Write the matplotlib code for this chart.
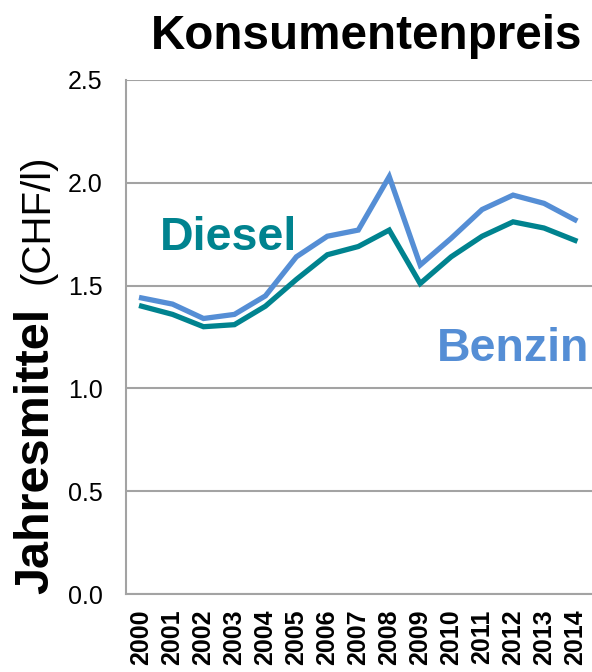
import numpy as np
import matplotlib
matplotlib.use('Agg')
import matplotlib.pyplot as plt

plt.rcParams['font.family'] = ['Liberation Sans', 'DejaVu Sans']

# Data
years = ['2000', '2001', '2002', '2003', '2004', '2005', '2006', '2007',
         '2008', '2009', '2010', '2011', '2012', '2013', '2014']
benzin = [1.44, 1.41, 1.34, 1.36, 1.45, 1.64, 1.74, 1.77,
          2.03, 1.60, 1.73, 1.87, 1.94, 1.90, 1.82]
diesel = [1.40, 1.36, 1.30, 1.31, 1.40, 1.53, 1.65, 1.69,
          1.77, 1.51, 1.64, 1.74, 1.81, 1.78, 1.72]
yticks = [0.0, 0.5, 1.0, 1.5, 2.0, 2.5]

c_benzin = '#558ED5'
c_diesel = '#00838F'
c_grid = '#A3A3A3'

fig = plt.figure(figsize=(5.92, 6.72), dpi=100)
ax = fig.add_axes([0.213, 0.116, 0.787, 0.765])

x = np.arange(len(years))
ax.plot(x, benzin, color=c_benzin, lw=3.8, solid_joinstyle='miter', zorder=3)
ax.plot(x, diesel, color=c_diesel, lw=3.8, solid_joinstyle='miter', zorder=3)

ax.set_xlim(-0.5, len(years) - 0.45)
ax.set_ylim(0, 2.5)
ax.set_yticks(yticks)
ax.set_yticklabels(['%.1f' % v for v in yticks], fontsize=18)
ax.set_xticks(x)
ax.set_xticklabels(years, rotation=90, fontsize=18, fontweight='bold')
ax.tick_params(axis='y', length=0, pad=17)
ax.tick_params(axis='x', length=0, pad=11)

ax.grid(axis='y', color=c_grid, lw=1.5)
ax.set_axisbelow(True)
for s in ['top', 'right']:
    ax.spines[s].set_visible(False)
ax.spines['left'].set_color(c_grid)
ax.spines['left'].set_linewidth(1.5)
ax.spines['bottom'].set_color(c_grid)
ax.spines['bottom'].set_linewidth(1.5)

# series labels
ax.text(0.6, 1.73, 'Diesel', color=c_diesel, fontsize=33.5, fontweight='bold',
        ha='left', va='center')
ax.text(9.55, 1.19, 'Benzin', color=c_benzin, fontsize=33.5, fontweight='bold',
        ha='left', va='center')

# title and y-axis label
fig.text(0.619, 0.927, 'Konsumentenpreis', fontsize=34.3, fontweight='bold',
         ha='center', va='baseline')
fig.text(0.061, 0.116, 'Jahresmittel', fontsize=35, fontweight='bold',
         rotation=90, ha='center', va='bottom')
fig.text(0.063, 0.578, '(CHF/l)', fontsize=29, rotation=90,
         ha='center', va='bottom')

fig.savefig('out.png', dpi=100)
